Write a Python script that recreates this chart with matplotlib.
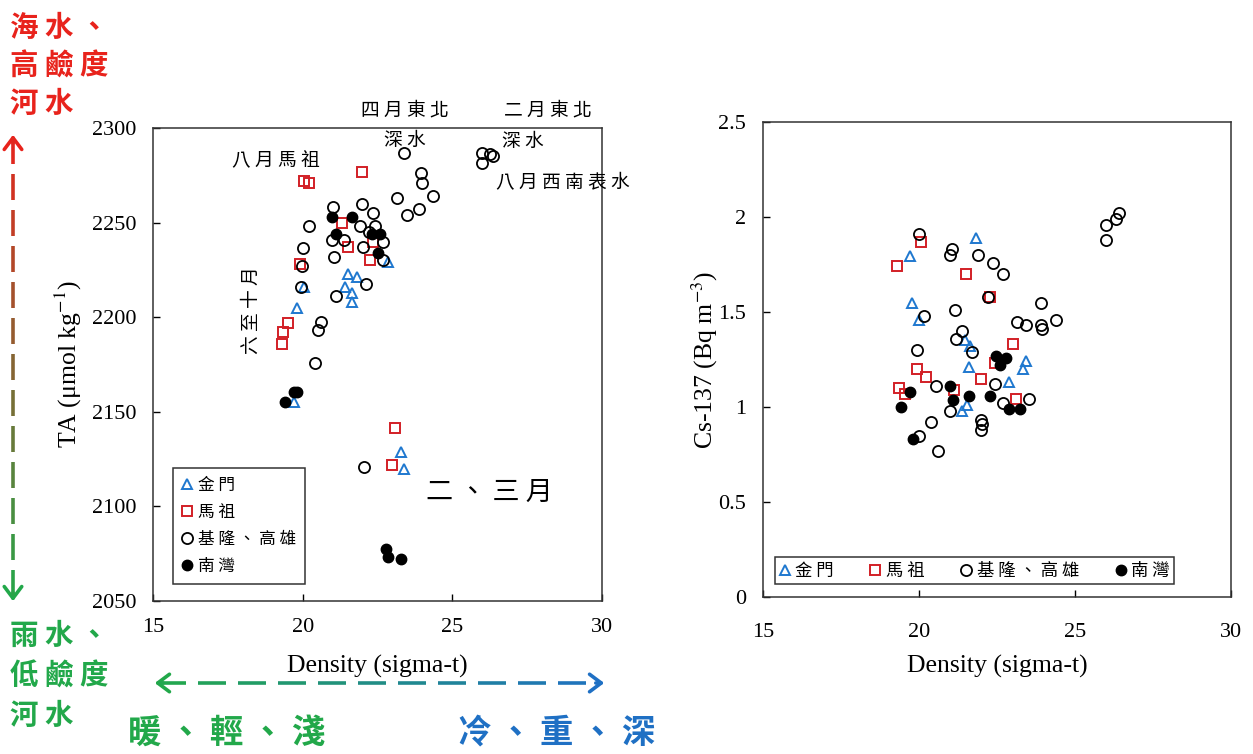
"""
TA / Cs-137 vs Density — 金門、馬祖、基隆高雄、南灣
"""

import numpy as np
import matplotlib
matplotlib.use("Agg")
import matplotlib.pyplot as plt
from matplotlib.lines import Line2D
from matplotlib.colors import to_rgb

# ============================================================
# DATA
# ============================================================
# --- TA vs density ---
kinmen_ta_d = [22.85, 21.5, 21.8, 21.4, 21.65, 21.65, 20.05, 19.8, 19.7, 23.3, 23.4]
kinmen_ta = [2229, 2223, 2221, 2216, 2213, 2208, 2216, 2205, 2155, 2129, 2120]

matsu_ta_d = [20.05, 20.2, 21.98, 21.3, 21.5, 22.25, 22.35, 19.9, 19.5, 19.35, 19.3, 23.1, 23.0]
matsu_ta = [2272, 2271, 2277, 2250, 2237, 2230, 2240, 2228, 2197, 2192, 2186, 2141.5, 2122]

keelung_ta_d = [23.4, 26.0, 26.0, 26.25, 26.35, 23.95, 24.0, 23.15, 24.35, 23.5, 23.9,
                21.98, 22.35, 21.0, 20.2, 21.9, 22.4, 22.2, 22.7, 20.98, 21.38, 22.0,
                21.05, 22.7, 20.0, 19.98, 19.95, 22.1, 21.1, 20.6, 20.5, 20.4, 22.05]
keelung_ta = [2287, 2287, 2281.5, 2286, 2285, 2276, 2271, 2263, 2264, 2254, 2257,
              2260, 2255, 2258, 2248, 2248, 2248, 2245, 2240, 2241, 2241, 2237,
              2232, 2230, 2236.5, 2227, 2216, 2217.5, 2211, 2197.5, 2193, 2176, 2121]

nanwan_ta_d = [20.98, 21.65, 21.1, 22.3, 22.6, 22.5, 19.4, 19.7, 19.8, 22.8, 22.85, 23.3]
nanwan_ta = [2253, 2253, 2244, 2244, 2244, 2234, 2155, 2160.5, 2160.5, 2077.5, 2073, 2072]

# --- Cs-137 vs density ---
kinmen_cs_d = [21.83, 19.71, 19.78, 20.0, 21.47, 21.65, 21.6, 23.42, 23.33, 22.87, 21.55, 21.39]
kinmen_cs = [1.89, 1.795, 1.55, 1.46, 1.355, 1.32, 1.21, 1.24, 1.20, 1.13, 1.01, 0.98]

matsu_cs_d = [20.07, 19.3, 21.5, 22.27, 23.0, 22.45, 19.93, 20.23, 21.98, 19.37, 19.55, 21.13, 23.1]
matsu_cs = [1.87, 1.74, 1.70, 1.58, 1.33, 1.23, 1.20, 1.16, 1.15, 1.10, 1.07, 1.09, 1.04]

keelung_cs_d = [26.0, 26.0, 26.32, 26.4, 20.0, 21.07, 21.0, 21.9, 22.38, 22.68, 22.2,
                23.92, 21.15, 20.17, 23.13, 23.43, 23.92, 23.93, 24.38, 21.38, 21.17,
                19.93, 21.7, 22.45, 20.53, 20.98, 20.4, 22.0, 22.03, 22.0, 20.0, 20.6,
                22.7, 23.52]
keelung_cs = [1.88, 1.96, 1.99, 2.02, 1.91, 1.83, 1.80, 1.80, 1.76, 1.70, 1.58,
              1.55, 1.51, 1.48, 1.45, 1.43, 1.43, 1.41, 1.46, 1.40, 1.36,
              1.30, 1.29, 1.12, 1.11, 0.98, 0.92, 0.93, 0.91, 0.88, 0.85, 0.77,
              1.02, 1.04]

nanwan_cs_d = [22.48, 22.8, 22.6, 19.7, 19.42, 21.0, 21.1, 21.6, 22.28, 22.87, 23.25, 19.8]
nanwan_cs = [1.27, 1.26, 1.22, 1.08, 1.00, 1.11, 1.035, 1.06, 1.06, 0.99, 0.99, 0.83]

SITES = ["金門", "馬祖", "基隆、高雄", "南灣"]

# ============================================================
# CONFIG
# ============================================================
W, H = 1253, 754
BLUE = "#1f78cf"
RED = "#d21f26"
CJK = ["Noto Sans CJK TC", "DejaVu Sans"]
SERIF = ["Liberation Serif", "DejaVu Serif"]

plt.rcParams["font.family"] = SERIF
plt.rcParams["mathtext.fontset"] = "stix"

STYLE = {
    "金門": dict(marker="^", mfc="none", mec=BLUE, ms=7.5, mew=1.4),
    "馬祖": dict(marker="s", mfc="none", mec=RED, ms=7.5, mew=1.4),
    "基隆、高雄": dict(marker="o", mfc="none", mec="black", ms=8, mew=1.3),
    "南灣": dict(marker="o", mfc="black", mec="black", ms=7.5, mew=1.0),
}


def sp(s):
    """giãn chữ Hán (thêm khoảng trắng giữa các ký tự)"""
    return " ".join(s)


def px(x, y):
    """pixel (góc trên trái) → figure fraction"""
    return x / W, 1 - y / H


def gradient_dashed_arrow(fig, p0, p1, c0, c1, dash=26, gap=10, lw=2.6):
    """Mũi tên nét đứt đổi màu từ c0 → c1, hai đầu có mũi tên."""
    p0, p1 = np.array(p0, float), np.array(p1, float)
    vec = p1 - p0
    L = np.hypot(*vec)
    u = vec / L
    a, b = np.array(to_rgb(c0)), np.array(to_rgb(c1))
    s = 6.0
    while s < L - 6:
        e = min(s + dash, L - 6)
        t = (s + e) / 2 / L
        q0, q1 = p0 + u * s, p0 + u * e
        f0, f1 = px(*q0), px(*q1)
        fig.add_artist(Line2D([f0[0], f1[0]], [f0[1], f1[1]],
                              transform=fig.transFigure,
                              color=a + (b - a) * t, lw=lw,
                              solid_capstyle="butt"))
        s = e + gap
    # đầu mũi tên
    for tip, col, d in [(p0, c0, u), (p1, c1, -u)]:
        base = tip + d * 14
        fig.add_artist(matplotlib.patches.FancyArrowPatch(
            px(*base), px(*tip), transform=fig.transFigure,
            arrowstyle="->,head_length=0.6,head_width=0.45",
            color=col, lw=lw, mutation_scale=14))


def scatter_sites(ax, data):
    for name, (xs, ys) in zip(SITES, data):
        ax.plot(xs, ys, ls="none", label=sp(name), **STYLE[name])


def style_axes(ax):
    ax.set_xlim(15, 30)
    ax.set_xticks([15, 20, 25, 30])
    ax.tick_params(direction="in", length=5, width=1, labelsize=16)
    for s in ax.spines.values():
        s.set_linewidth(1.1)
        s.set_color("#333333")


# ============================================================
# PLOT
# ============================================================
def main():
    fig = plt.figure(figsize=(W / 100, H / 100), dpi=100)

    # ---------------- Left: TA ----------------
    ax1 = fig.add_axes([153 / W, 1 - 601 / H, 449 / W, 473 / H])
    scatter_sites(ax1, [(kinmen_ta_d, kinmen_ta), (matsu_ta_d, matsu_ta),
                        (keelung_ta_d, keelung_ta), (nanwan_ta_d, nanwan_ta)])
    style_axes(ax1)
    ax1.set_ylim(2050, 2300)
    ax1.set_yticks(np.arange(2050, 2301, 50))
    ax1.tick_params(axis="y", pad=12)
    ax1.tick_params(axis="x", pad=12)
    ax1.set_ylabel("TA (μmol kg$^{-1}$)", fontsize=18.5, labelpad=6)
    ax1.set_xlabel("Density (sigma-t)", fontsize=18.5, labelpad=13)
    leg1 = ax1.legend(loc="lower left", bbox_to_anchor=(0.045, 0.036),
                      borderaxespad=0, fancybox=False, edgecolor="#333333",
                      prop={"family": CJK, "size": 12}, handlelength=0.6,
                      handletextpad=0.35, labelspacing=0.6, borderpad=0.55,
                      framealpha=1)
    leg1.get_frame().set_linewidth(1.1)

    kw = dict(family=CJK, fontsize=13.5, ha="center", va="center", clip_on=False)
    ax1.text(19.11, 2283, sp("八月馬祖"), **kw)
    ax1.text(23.42, 2309.5, sp("四月東北"), **kw)
    ax1.text(23.42, 2293.5, sp("深水"), **kw)
    ax1.text(28.2, 2309.5, sp("二月東北"), **kw)
    ax1.text(27.36, 2293, sp("深水"), **kw)
    ax1.text(28.7, 2271, sp("八月西南表水"), **kw)
    ax1.text(18.3, 2204, sp("六至十月"), rotation=90, **kw)
    ax1.text(26.23, 2107.5, sp("二、三月"), family=CJK, fontsize=19.5,
             ha="center", va="center")

    # ---------------- Right: Cs-137 ----------------
    ax2 = fig.add_axes([763 / W, 1 - 597 / H, 468 / W, 475 / H])
    scatter_sites(ax2, [(kinmen_cs_d, kinmen_cs), (matsu_cs_d, matsu_cs),
                        (keelung_cs_d, keelung_cs), (nanwan_cs_d, nanwan_cs)])
    style_axes(ax2)
    ax2.set_ylim(0, 2.5)
    ax2.set_yticks(np.arange(0, 2.51, 0.5))
    ax2.yaxis.set_major_formatter(matplotlib.ticker.FormatStrFormatter("%g"))
    ax2.tick_params(axis="y", pad=12)
    ax2.tick_params(axis="x", pad=19)
    ax2.set_ylabel("Cs-137 (Bq m$^{-3}$)", fontsize=18.5, labelpad=-1)
    ax2.set_xlabel("Density (sigma-t)", fontsize=18.5, labelpad=9)
    leg2 = ax2.legend(loc="lower left", bbox_to_anchor=(0.026, 0.027), ncol=4,
                      borderaxespad=0, fancybox=False, edgecolor="#333333",
                      prop={"family": CJK, "size": 12.5}, handlelength=0.6,
                      handletextpad=0.3, columnspacing=2.1, borderpad=0.25,
                      framealpha=1)
    leg2.get_frame().set_linewidth(1.1)

    # ---------------- Chú thích màu bên ngoài ----------------
    big = dict(family=CJK, fontsize=20.5, fontweight="bold", ha="left", va="center")
    red_txt, green_txt, blue_txt = "#e8231c", "#22a84a", "#1f70c4"
    for i, s in enumerate(["海水、", "高鹼度", "河水"]):
        fig.text(*px(10, 28 + i * 38), sp(s), color=red_txt, **big)
    for i, s in enumerate(["雨水、", "低鹼度", "河水"]):
        fig.text(*px(10, 636 + i * 40), sp(s), color=green_txt, **big)
    big["fontsize"] = 24
    fig.text(*px(128, 733), sp("暖、輕、淺"), color=green_txt, **big)
    fig.text(*px(458, 733), sp("冷、重、深"), color=blue_txt, **big)

    gradient_dashed_arrow(fig, (13, 132), (13, 604), red_txt, green_txt)
    gradient_dashed_arrow(fig, (152, 683), (607, 683), green_txt, blue_txt,
                          dash=28, gap=12)

    fig.savefig("out.png", dpi=100)


if __name__ == "__main__":
    main()
